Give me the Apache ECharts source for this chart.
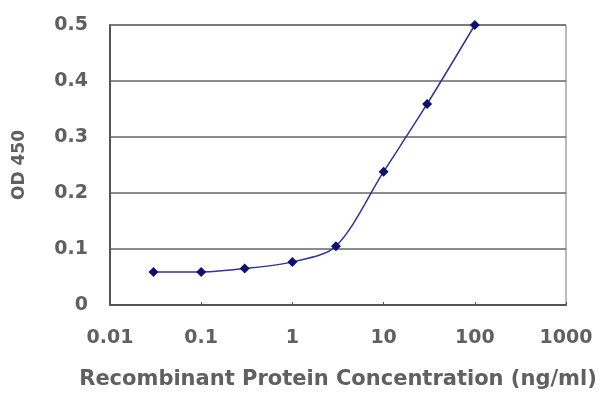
<!DOCTYPE html>
<html><head><meta charset="utf-8">
<script src="https://cdn.jsdelivr.net/npm/echarts@6/dist/echarts.min.js"></script>
<style>html,body{margin:0;padding:0;background:#fff}#c{width:600px;height:400px}</style>
</head><body><div id="c"></div>
<script>
const concentrations = [0.03, 0.1, 0.3, 1, 3, 10, 30, 100];
const od450 = [0.059, 0.059, 0.065, 0.077, 0.105, 0.238, 0.359, 0.5];
const xTickLabels = ['0.01', '0.1', '1', '10', '100', '1000'];
const yTickLabels = ['0', '0.1', '0.2', '0.3', '0.4', '0.5'];

const chart = echarts.init(document.getElementById('c'));
const font = 'DejaVu Sans, sans-serif';
const txt = '#606060';
chart.setOption({
  animation: false,
  backgroundColor: '#fff',
  grid: { left: 110, right: 34, top: 25, bottom: 95, show: true, borderColor: '#777', borderWidth: 1, backgroundColor: 'transparent' },
  xAxis: {
    type: 'log', logBase: 10, min: 0.01, max: 1000,
    name: 'Recombinant Protein Concentration (ng/ml)', nameLocation: 'middle', nameGap: 64,
    nameTextStyle: { fontFamily: font, fontSize: 21, fontWeight: 'bold', color: txt },
    axisLine: { lineStyle: { color: '#555', width: 2 } },
    axisTick: { show: true, length: 3, inside: true, lineStyle: { color: '#555' } },
    minorTick: { show: false },
    splitLine: { show: false },
    axisLabel: { fontFamily: font, fontSize: 19, fontWeight: 'bold', color: txt, margin: 24,
      formatter: v => { const i = Math.round(Math.log10(v)) + 2; return xTickLabels[i] ?? ''; } }
  },
  yAxis: {
    type: 'value', min: 0, max: 0.5, interval: 0.1,
    name: 'OD 450', nameLocation: 'middle', nameGap: 82, nameRotate: 90,
    nameTextStyle: { fontFamily: font, fontSize: 17, fontWeight: 'bold', color: txt },
    axisLine: { show: true, lineStyle: { color: '#555', width: 2 } },
    axisTick: { show: false },
    splitLine: { show: true, lineStyle: { color: '#666', width: 1.5 } },
    axisLabel: { fontFamily: font, fontSize: 19, fontWeight: 'bold', color: txt, margin: 22,
      formatter: v => yTickLabels[Math.round(v * 10)] ?? '' }
  },
  series: [{
    type: 'line',
    data: concentrations.map((c, i) => [c, od450[i]]),
    smooth: 0.3,
    symbol: 'diamond', symbolSize: 10,
    lineStyle: { color: '#33339a', width: 1.5 },
    itemStyle: { color: '#10106e' }
  }]
});
</script></body></html>
